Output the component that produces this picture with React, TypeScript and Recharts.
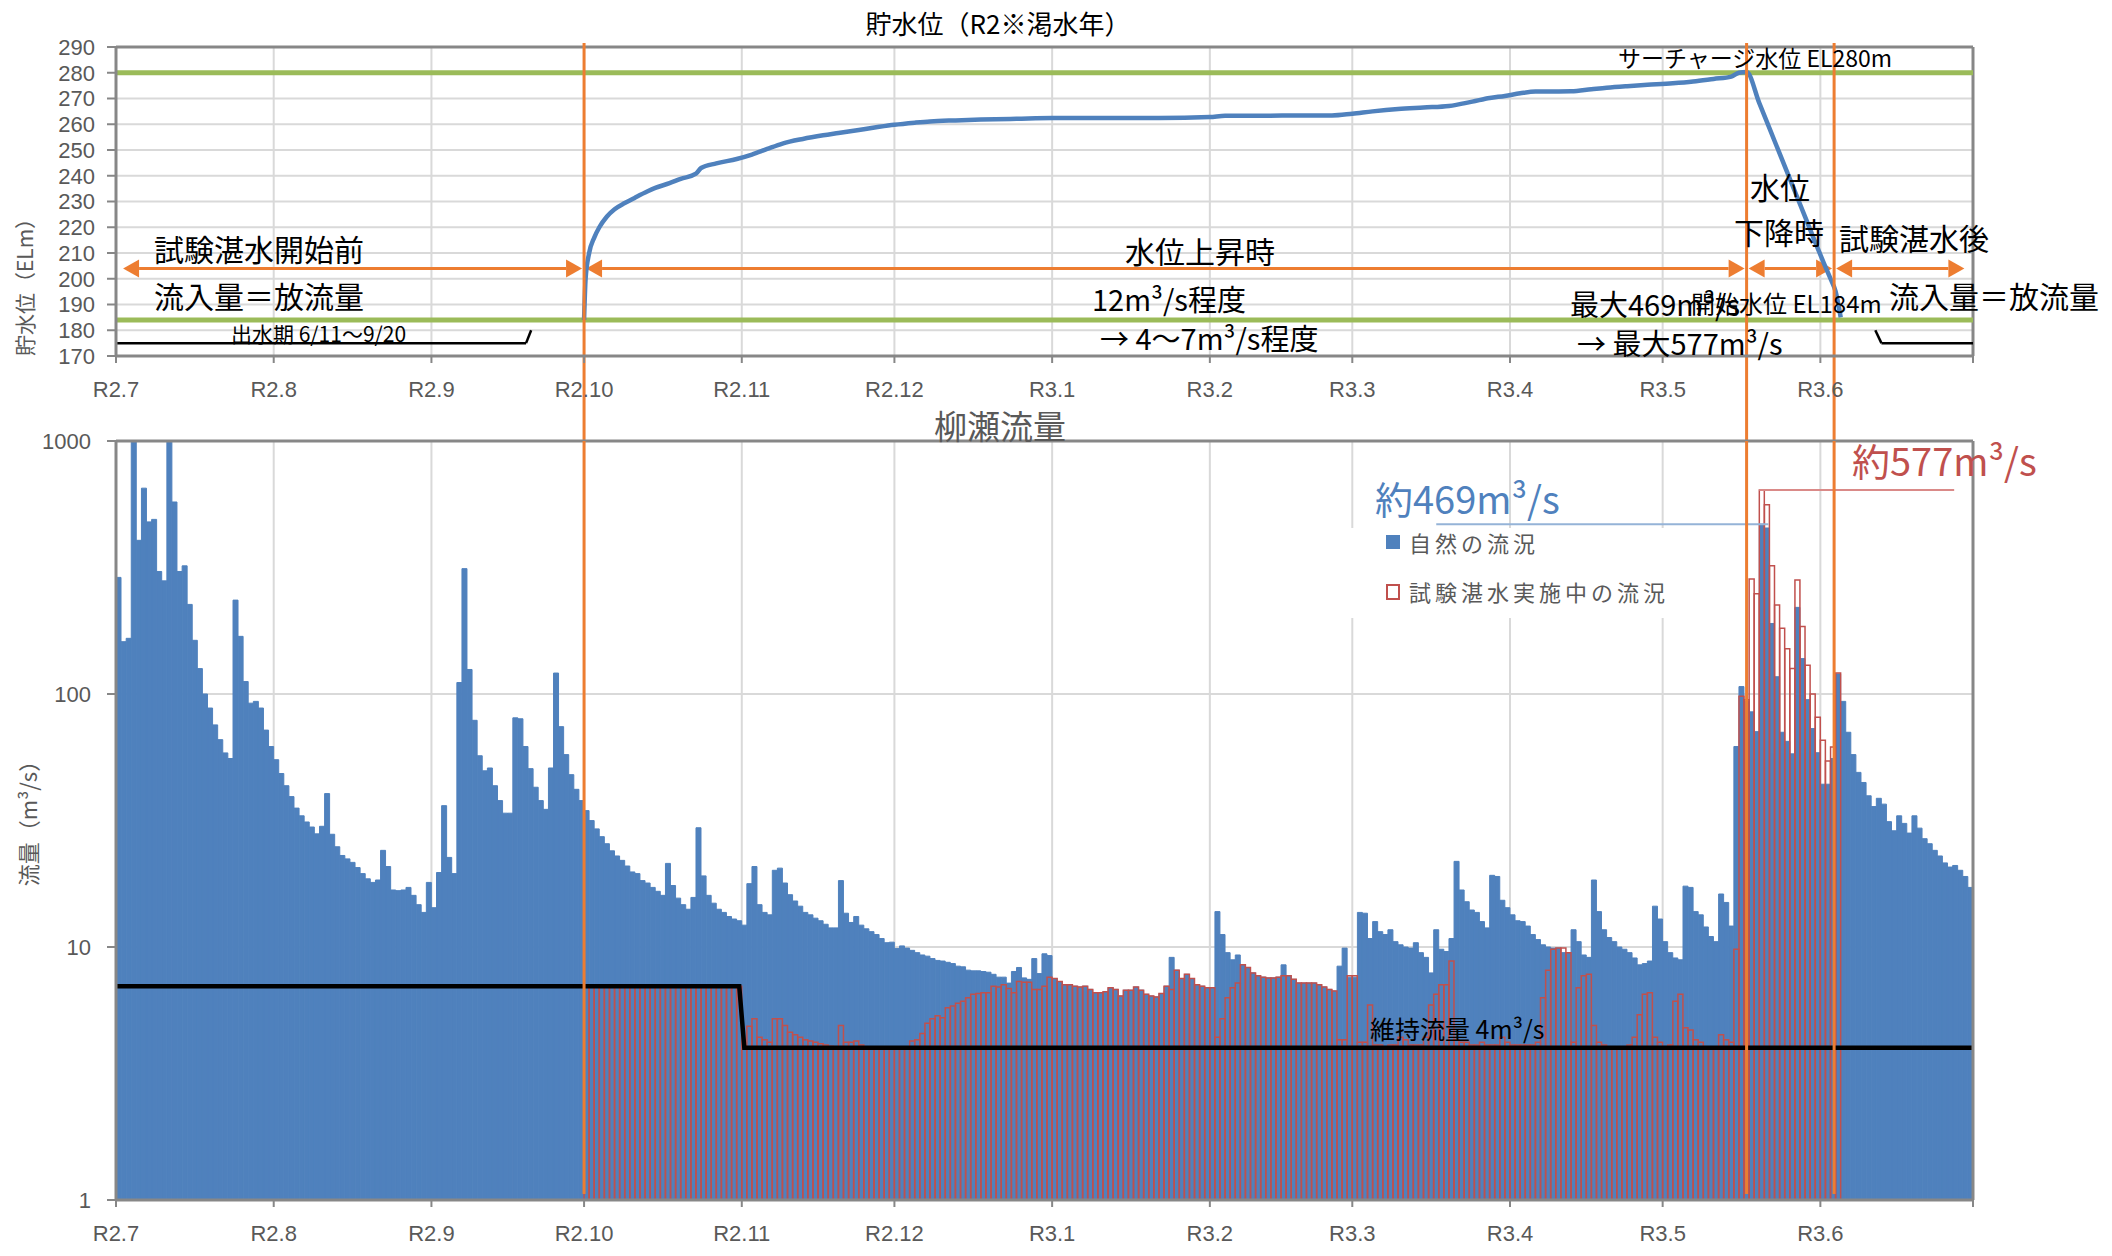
import React from 'react';
import {
  ComposedChart,
  LineChart,
  Line,
  Bar,
  XAxis,
  YAxis,
  CartesianGrid,
  ReferenceLine
} from 'recharts';

// day index: R2.7.1 = 0
const monthTicks = [0, 31, 62, 92, 123, 153, 184, 215, 243, 274, 304, 335, 365];
const monthLabels = ['R2.7', 'R2.8', 'R2.9', 'R2.10', 'R2.11', 'R2.12', 'R3.1', 'R3.2', 'R3.3', 'R3.4', 'R3.5', 'R3.6', ''];
const levelTicks = [170, 180, 190, 200, 210, 220, 230, 240, 250, 260, 270, 280, 290];
const flowTicks = [1, 10, 100, 1000];

// 自然の流況 (m3/s), daily from R2.7.1
const naturalFlow = [
  289, 161, 166, 1000, 405, 651, 479, 490, 305, 280,
  1000, 574, 305, 321, 226, 163, 126, 100, 88, 75.5,
  66, 58.5, 55.6, 235, 169, 112, 92, 93.5, 88, 72,
  62, 55, 48.5, 43.4, 39.3, 35.4, 33, 31.2, 29.8, 28,
  30, 40.4, 27.9, 24.9, 23, 22.3, 21.6, 20.6, 19.5, 18.6,
  18, 18.4, 24.1, 20.8, 16.8, 16.7, 16.8, 17.2, 16, 14.7,
  13.7, 18, 14.3, 19.7, 36.2, 22.6, 19.5, 111, 313, 125,
  78.7, 57, 49.7, 51, 43.4, 37.9, 33.8, 33.8, 80.5, 79.8,
  62, 50.7, 42.8, 37.9, 35, 51, 121, 74.3, 57.6, 48,
  42, 37.9, 34.6, 31.6, 29.3, 27.3, 25.6, 24, 22.9, 22,
  20.9, 19.8, 19.5, 18.3, 17.9, 17.2, 16.6, 16, 21.4, 17.5,
  15.6, 14.7, 14.1, 15.7, 29.6, 19.1, 16, 14.9, 14.1, 13.7,
  13.2, 12.9, 12.7, 12.2, 17.8, 20.8, 14.7, 13.7, 13.4, 20.1,
  20.5, 17.9, 16.1, 15.2, 14.5, 13.7, 13.4, 13, 12.7, 12.3,
  11.9, 11.9, 18.3, 13.6, 12.5, 13.2, 12.2, 11.8, 11.5, 11.2,
  10.8, 10.4, 10.45, 9.87, 10.1, 9.9, 9.7, 9.5, 9.3, 9.2,
  9.0, 8.85, 8.8, 8.7, 8.6, 8.4, 8.35, 8.1, 8.05, 8.05,
  8.0, 7.95, 7.8, 7.6, 7.6, 7.2, 8.0, 8.3, 7.55, 7.45,
  9.0, 7.85, 9.4, 9.25, 7.5, 7.3, 7.1, 7.1, 7.0, 6.95,
  7.0, 6.8, 6.6, 6.6, 6.65, 6.9, 6.8, 6.4, 6.75, 6.75,
  6.95, 6.75, 6.5, 6.4, 6.35, 6.55, 7.0, 9.1, 8.1, 7.5,
  7.8, 7.5, 7.1, 7.0, 6.9, 6.9, 13.8, 11.2, 9.5, 8.9,
  9.3, 8.5, 8.3, 7.9, 7.7, 7.6, 7.55, 7.55, 7.6, 8.5,
  7.7, 7.45, 7.2, 7.2, 7.2, 7.2, 7.1, 6.95, 6.8, 6.7,
  8.4, 9.9, 7.6, 7.6, 13.7, 13.6, 10.8, 12.6, 11.5, 11.2,
  11.7, 10.5, 10.2, 10, 9.9, 10.4, 9.5, 9.1, 7.9, 11.7,
  9.8, 9.6, 10.8, 21.8, 16.8, 15.1, 14, 13.7, 12.6, 11.9,
  19.2, 19, 15.3, 14.3, 13.4, 12.7, 12.6, 12.1, 11.2, 10.7,
  10.2, 10, 9.9, 9.9, 9.5, 9.5, 11.7, 10.5, 9.3, 9.1,
  18.4, 13.8, 11.7, 10.9, 10.5, 10, 9.8, 9.5, 9.05, 8.5,
  8.6, 8.8, 14.5, 12.9, 10.5, 9.5, 9.05, 8.9, 17.4, 17.2,
  13.8, 13.4, 12, 11, 10.5, 16.2, 15, 12.1, 62, 107,
  93.5, 85, 71, 469, 453, 190, 117, 70.6, 65, 58,
  220, 138, 95, 73, 58.6, 44, 44, 55.6, 120, 93.5,
  70.6, 57.6, 49, 44.7, 39.6, 35.9, 38.7, 36.7, 31.3, 28.8,
  33, 30.8, 28.2, 33, 29.5, 26.8, 25.6, 24.1, 22.9, 21.5,
  20.7, 21, 20.1, 19, 17.2
];

// 試験湛水実施中の流況 (m3/s), daily from R2.10.1 (day 92)
const testStartDay = 92;
const testFlow = [
  7, 7, 7, 7, 7, 7, 7, 7, 7, 7, 7, 7, 7, 7, 7, 7, 7, 7, 7, 7, 7, 7, 7, 7, 7, 7, 7, 7, 7, 7, 7,
  4.0, 4.86, 5.2, 4.4, 4.3, 4.2, 5.2, 5.2, 4.9, 4.6, 4.5, 4.4, 4.3, 4.25, 4.2, 4.15, 4.1, 4.05, 4.0, 4.9, 4.2, 4.2,
  4.25, 4.1, 4.0, 4.0, 4.0, 4.0, 4.0, 4.0, 4.0, 4.0, 4.0, 4.25, 4.3,
  4.55, 5.0, 5.2, 5.35, 5.25, 5.75, 5.85, 6.0, 6.1, 6.3, 6.5, 6.55, 6.6, 6.6, 7.0, 6.95, 7.1, 6.85, 6.6, 7.3, 7.25, 7.25, 6.8, 6.8, 7.0, 7.6,
  7.5, 7.3, 7.1, 7.1, 7.0, 6.95, 7.0, 6.8, 6.6, 6.6, 6.65, 6.9, 6.8, 6.4, 6.75, 6.75, 6.95, 6.75, 6.5, 6.4, 6.35, 6.55, 7.0, 6.8, 8.1, 7.5, 7.8, 7.5, 7.1, 7.0, 6.9, 6.9,
  4.4, 5.2, 6.3, 6.9, 7.2, 8.5, 8.3, 7.9, 7.7, 7.6, 7.55, 7.55, 7.6, 7.7, 7.7, 7.45, 7.2, 7.2, 7.2, 7.2, 7.1, 6.95, 6.8, 6.7, 4.3, 4.3, 7.7, 7.7,
  4.2, 4.2, 5.9, 4.1, 4.1, 4.0, 4.1, 4.1, 4.4, 4.3, 4.1, 4.1, 4.1, 4.4, 5.9, 6.5, 7.1, 7.1, 8.8, 4.3, 4.2, 4.2, 4.1, 4.1, 4.2, 4.1, 4.1, 4.1, 4.4, 4.2, 4.1, 4.1, 4.1, 4.1, 4.1, 4.2,
  6.3, 8.1, 9.8, 9.9, 9.9, 9.5, 4.2, 6.9, 7.7, 7.8, 4.9, 4.2, 4.1, 4.0, 4.0, 4.0, 4.0, 4.1, 4.4, 5.4, 6.5, 6.6, 4.4, 4.2, 4.0, 4.1, 6.1, 6.5, 4.8, 4.7, 4.3, 4.2, 4.0, 4.0, 4.0, 4.5, 4.3, 4.2,
  9.8, 98, 95, 285, 249, 640, 560, 321, 225, 182, 151, 126, 282, 185, 130, 100, 81, 65.7, 54.4, 61.7, 121
];

// 維持流量
const maintDays = [0, 122.5, 123.5, 365];
const maintValues = [7, 7, 4, 4];

// 貯水位 (EL m)
const levelDays = [
  92, 92.3, 93, 94, 95, 96.5, 98, 100, 102, 104.4, 106, 108.8, 111, 114, 115, 118, 122, 125, 128, 131,
  135, 139, 142, 146, 150, 153, 157, 160, 165, 170, 177, 184, 195, 205, 215, 218, 225, 232, 239, 243,
  247, 252, 257, 262, 266.6, 270, 273, 276, 279, 286, 290, 293, 297, 301, 306, 310, 314, 317.5, 319, 320.5,
  323, 326, 329, 332, 335.7, 337, 338, 339
];
const levelValues = [
  184, 200, 210, 216, 220, 224.2, 227, 229.4, 231.5, 233.9, 235.3, 237.1, 238.8, 240.8, 243, 244.8, 246.5, 248.2, 250.4, 252.5,
  254.3, 255.7, 256.6, 257.8, 259, 259.8, 260.6, 261.1, 261.5, 261.8, 262.1, 262.4, 262.4, 262.4, 262.8, 263.3, 263.3, 263.4, 263.4, 264.1,
  265, 265.9, 266.5, 267.1, 268.8, 270.2, 271, 272, 272.7, 272.8, 273.6, 274.2, 274.8, 275.3, 275.9, 276.6, 277.6, 278.5, 280, 280.3,
  268.2, 253.5, 238.8, 224, 206, 200, 195, 185
];

const surchargeLevel = 280;
const startLevel = 184;
const phaseBounds = [92, 320.5, 337.7];
const arrowSpans = [[1, 92], [92, 320.5], [320.5, 337.7], [337.7, 363.7]];
const arrowLevel = 204;

const BLUE = '#4F81BD';
const RED = '#C0504D';
const ORANGE = '#ED7D31';
const GREEN = '#9BBB59';
const GRID = '#D9D9D9';
const AXIS = '#878787';
const GRAY = '#595959';
const FONT = '"Noto Sans CJK JP", "Noto Sans", sans-serif';

const flowData = naturalFlow.map((v, i) => {
  const k = i - testStartDay;
  return { x: i + 0.5, natural: v, test: k >= 0 && k < testFlow.length ? testFlow[k] : null };
});
const maintData = maintDays.map((d, i) => ({ x: d, v: maintValues[i] }));
const levelData = levelDays.map((d, i) => ({ x: d, level: levelValues[i] }));

const fmtMonth = (v: number) => monthLabels[monthTicks.indexOf(v)] ?? '';

const arrowShape = (p: any) => {
  const xa = Math.min(p.x1, p.x2) + 2;
  const xb = Math.max(p.x1, p.x2) - 2;
  const y = p.y1;
  const L = 16;
  const H = 9;
  return (
    <g>
      <line x1={xa + L} x2={xb - L} y1={y} y2={y} stroke={ORANGE} strokeWidth={3} />
      <polygon points={`${xa},${y} ${xa + L},${y - H} ${xa + L},${y + H}`} fill={ORANGE} />
      <polygon points={`${xb},${y} ${xb - L},${y - H} ${xb - L},${y + H}`} fill={ORANGE} />
    </g>
  );
};

// top panel: line runs on down into the gap above the flow panel
const tallTop = (p: any) => (
  <line x1={p.x1} x2={p.x2} y1={Math.min(p.y1, p.y2) - 4} y2={Math.max(p.y1, p.y2) + 86} stroke={ORANGE} strokeWidth={3} />
);
const tallBottom = (p: any) => (
  <line x1={p.x1} x2={p.x2} y1={Math.min(p.y1, p.y2)} y2={Math.max(p.y1, p.y2) - 6} stroke={ORANGE} strokeWidth={3} />
);

type NoteProps = {
  x: number;
  y: number;
  size: number;
  color?: string;
  center?: boolean;
  spacing?: number;
  children: React.ReactNode;
};

function Note({ x, y, size, color = '#000', center, spacing, children }: NoteProps) {
  return (
    <div
      style={{
        position: 'absolute',
        left: x,
        top: y,
        fontSize: size,
        color,
        lineHeight: 1,
        whiteSpace: 'nowrap',
        transform: `translate(${center ? '-50%' : '0'}, -50%)`,
        letterSpacing: spacing
      }}
    >
      {children}
    </div>
  );
}

// axis title reading bottom to top
function SideTitle({ x, y, size, children }: { x: number; y: number; size: number; children: React.ReactNode }) {
  return (
    <div
      style={{
        position: 'absolute',
        left: x,
        top: y,
        fontSize: size,
        color: GRAY,
        lineHeight: 1,
        whiteSpace: 'nowrap',
        writingMode: 'vertical-rl',
        textOrientation: 'sideways',
        transform: 'translate(-50%, -50%) rotate(180deg)'
      }}
    >
      {children}
    </div>
  );
}

const tickStyle = { fontSize: 22, fill: GRAY, fontFamily: '"Liberation Sans", Arial, sans-serif' };

export default function App() {
  return (
    <div style={{ position: 'absolute', left: 0, top: 0, width: 2112, height: 1256, background: '#fff', fontFamily: FONT }}>
      <div style={{ position: 'absolute', left: 0, top: 0 }}>
        <LineChart width={2112} height={441} data={levelData} margin={{ top: 47, right: 139, bottom: 0, left: 0 }}>
          <CartesianGrid stroke={GRID} strokeWidth={2} />
          <XAxis
            type="number"
            dataKey="x"
            domain={[0, 365]}
            ticks={monthTicks}
            interval={0}
            tickFormatter={fmtMonth}
            height={85}
            tickSize={7}
            tickMargin={18}
            tick={tickStyle}
            axisLine={{ stroke: AXIS, strokeWidth: 3 }}
            tickLine={{ stroke: AXIS, strokeWidth: 2 }}
          />
          <YAxis
            domain={[170, 290]}
            ticks={levelTicks}
            interval={0}
            width={116}
            tickSize={9}
            tickMargin={12}
            tick={tickStyle}
            axisLine={{ stroke: AXIS, strokeWidth: 3 }}
            tickLine={{ stroke: AXIS, strokeWidth: 2 }}
          />
          <ReferenceLine y={290} stroke={AXIS} strokeWidth={3} />
          <ReferenceLine x={365} stroke={AXIS} strokeWidth={3} />
          <ReferenceLine y={surchargeLevel} stroke={GREEN} strokeWidth={5} />
          <ReferenceLine y={startLevel} stroke={GREEN} strokeWidth={5} />
          <ReferenceLine segment={[{ x: 0, y: 175 }, { x: 80.6, y: 175 }]} stroke="#000" strokeWidth={2.5} />
          <ReferenceLine segment={[{ x: 80.6, y: 175 }, { x: 81.6, y: 180 }]} stroke="#000" strokeWidth={2.5} />
          <ReferenceLine segment={[{ x: 345.8, y: 180 }, { x: 347, y: 175 }]} stroke="#000" strokeWidth={2.5} />
          <ReferenceLine segment={[{ x: 347, y: 175 }, { x: 365, y: 175 }]} stroke="#000" strokeWidth={2.5} />
          {arrowSpans.map(([a, b]) => (
            <ReferenceLine key={`ar${a}`} segment={[{ x: a, y: arrowLevel }, { x: b, y: arrowLevel }]} shape={arrowShape} />
          ))}
          <Line
            dataKey="level"
            type="monotone"
            stroke={BLUE}
            strokeWidth={4.5}
            dot={false}
            isAnimationActive={false}
          />
          {phaseBounds.map((d) => (
            <ReferenceLine key={`pt${d}`} x={d} shape={tallTop} />
          ))}
        </LineChart>
      </div>

      <div style={{ position: 'absolute', left: 0, top: 420 }}>
        <ComposedChart
          width={2112}
          height={836}
          data={flowData}
          margin={{ top: 21, right: 139, bottom: 0, left: 0 }}
          barCategoryGap={0}
          barGap={0}
        >
          <CartesianGrid xAxisId="a" stroke={GRID} strokeWidth={2} />
          <XAxis
            xAxisId="a"
            type="number"
            dataKey="x"
            domain={[0, 365]}
            ticks={monthTicks}
            interval={0}
            tickFormatter={fmtMonth}
            height={56}
            tickSize={7}
            tickMargin={18}
            tick={tickStyle}
            axisLine={{ stroke: AXIS, strokeWidth: 3 }}
            tickLine={{ stroke: AXIS, strokeWidth: 2 }}
          />
          <XAxis xAxisId="b" type="number" dataKey="x" domain={[0, 365]} hide />
          <XAxis xAxisId="c" type="number" dataKey="x" domain={[0, 365]} hide />
          <YAxis
            scale="log"
            domain={[1, 1000]}
            ticks={flowTicks}
            interval={0}
            allowDataOverflow
            width={116}
            tickSize={9}
            tickMargin={16}
            tick={tickStyle}
            axisLine={{ stroke: AXIS, strokeWidth: 3 }}
            tickLine={{ stroke: AXIS, strokeWidth: 2 }}
          />
          <Bar xAxisId="a" dataKey="natural" fill={BLUE} stroke={BLUE} strokeWidth={1} isAnimationActive={false} />
          <Bar xAxisId="b" dataKey="test" fill="none" stroke={RED} strokeWidth={1.5} isAnimationActive={false} />
          <Line
            xAxisId="c"
            data={maintData}
            dataKey="v"
            type="linear"
            stroke="#000"
            strokeWidth={4.5}
            dot={false}
            isAnimationActive={false}
          />
          <ReferenceLine xAxisId="a" y={1000} stroke={AXIS} strokeWidth={3} />
          <ReferenceLine xAxisId="a" x={365} stroke={AXIS} strokeWidth={3} />
          <ReferenceLine xAxisId="a" segment={[{ x: 259.5, y: 469 }, { x: 324.8, y: 469 }]} stroke="#95B3D7" strokeWidth={2} />
          <ReferenceLine xAxisId="a" segment={[{ x: 323, y: 640 }, { x: 361.3, y: 640 }]} stroke="#DA8A88" strokeWidth={2} />
          {phaseBounds.map((d) => (
            <ReferenceLine key={`pb${d}`} xAxisId="a" x={d} shape={tallBottom} />
          ))}
        </ComposedChart>
      </div>

      {/* top panel texts */}
      <Note x={998} y={23} size={26} center>貯水位（R2※渇水年）</Note>
      <SideTitle x={24} y={282} size={21}>貯水位（ELm）</SideTitle>
      <Note x={154} y={248} size={30}>試験湛水開始前</Note>
      <Note x={154} y={295} size={30}>流入量＝放流量</Note>
      <Note x={231} y={333} size={21}>出水期 6/11〜9/20</Note>
      <Note x={1125} y={250} size={30}>水位上昇時</Note>
      <Note x={1092} y={298} size={29}>12m³/s程度</Note>
      <Note x={1100} y={337} size={29}>→ 4〜7m³/s程度</Note>
      <Note x={1618} y={57} size={23}>サーチャージ水位 EL280m</Note>
      <Note x={1750} y={186} size={30}>水位</Note>
      <Note x={1734} y={231} size={30}>下降時</Note>
      <Note x={1839} y={237} size={30}>試験湛水後</Note>
      <Note x={1889} y={295} size={30}>流入量＝放流量</Note>
      <Note x={1570} y={303} size={29}>最大469m³/s</Note>
      <Note x={1691} y={303} size={24}>開始水位 EL184m</Note>
      <Note x={1577} y={342} size={29}>→ 最大577m³/s</Note>

      {/* bottom panel texts */}
      <Note x={1000} y={425} size={33} color={GRAY} center>柳瀬流量</Note>
      <SideTitle x={27} y={818} size={22}>流量（m³/s）</SideTitle>
      <Note x={1375} y={498} size={38} color={BLUE}>約469m³/s</Note>
      <Note x={1852} y={460} size={38} color={RED}>約577m³/s</Note>
      <div style={{ position: 'absolute', left: 1340, top: 528, width: 360, height: 90, background: '#fff' }} />
      <div style={{ position: 'absolute', left: 1386, top: 535, width: 14, height: 14, background: BLUE }} />
      <Note x={1409} y={542} size={22} color={GRAY} spacing={4}>自然の流況</Note>
      <div style={{ position: 'absolute', left: 1386, top: 584, width: 10, height: 12, border: `2.5px solid ${RED}` }} />
      <Note x={1409} y={591} size={22} color={GRAY} spacing={4}>試験湛水実施中の流況</Note>
      <Note x={1370} y={1028} size={25}>維持流量 4m³/s</Note>
    </div>
  );
}
